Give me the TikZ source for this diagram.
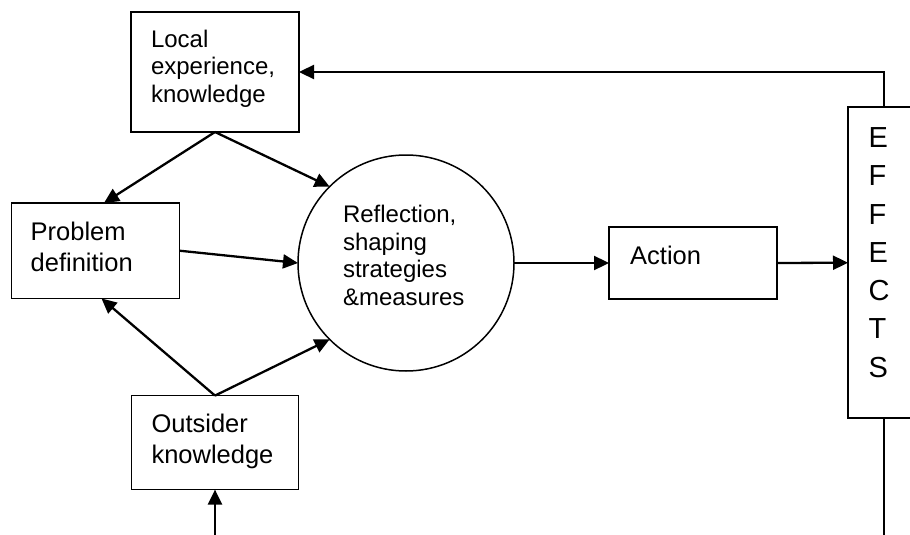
\documentclass[tikz,border=0pt]{standalone}
\usepackage{fontspec}
\setmainfont{Liberation Sans}
\usetikzlibrary{arrows.meta}
\begin{document}
\begin{tikzpicture}[x=1pt,y=-1pt,
  box/.style={draw, line width=1.6pt, rectangle, inner sep=0pt, outer sep=0pt},
  txt/.style={inner sep=0pt, outer sep=0pt, align=left, anchor=north west},
  conn/.style={line width=2.3pt, -{Triangle[length=15pt,width=14pt]}},
  plainline/.style={line width=2.3pt}]
\fill[white] (0,0) rectangle (910,535);
\useasboundingbox (0,0) rectangle (910,535);
% boxes
\node[box, minimum width=168pt, minimum height=120pt] (local) at (215,72) {};
\node[box, minimum width=168pt, minimum height=95.5pt] (prob) at (95.5,250.7) {};
\node[box, minimum width=167pt, minimum height=94pt] (outs) at (215,442.6) {};
\node[box, minimum width=168pt, minimum height=72pt] (act) at (693,263) {};
\node[draw, circle, line width=1.5pt, minimum size=216pt, inner sep=0pt, outer sep=0pt] (circ) at (406,263) {};
\node[box, minimum width=72pt, minimum height=311pt] (eff) at (884,262.7) {};
% texts
\node[txt, font=\fontsize{24}{27.3}\selectfont] (localtxt) at (151,30.1) {Local\\experience,\\knowledge};
\node[txt, font=\fontsize{25.5}{31.5}\selectfont] (probtxt) at (30.7,221.7) {Problem\\definition};
\node[txt, font=\fontsize{25.5}{30.7}\selectfont] (outstxt) at (151.5,414.5) {Outsider\\knowledge};
\node[txt, font=\fontsize{24}{27.5}\selectfont] (circtxt) at (343,205.5) {Reflection,\\shaping\\strategies\\\&measures};
\node[inner sep=0pt, anchor=base west, font=\fontsize{25.5}{30}\selectfont] (acttxt) at (630,264.3) {Action};
\node[txt, font=\fontsize{29}{38.3}\selectfont] (efftxt) at (868.7,127.5) {E\\F\\F\\E\\C\\T\\S};
% connectors
\draw[conn] (local.south) -- ([xshift=8.5pt]prob.north);
\draw[conn] (local.south) -- (circ.135);
\draw[conn] (prob.east) -- (circ.west);
\draw[conn] (outs.north) -- ([xshift=6pt]prob.south);
\draw[conn] (outs.north) -- (circ.225);
\draw[conn] (circ.east) -- (act.west);
\draw[conn] (act.east) -- (eff.west);
\draw[conn] (eff.north) |- (local.east);
\coordinate (effend) at (884,535);
\draw[plainline] (eff.south) -- (effend);
\coordinate (outsin) at (215,535);
\draw[conn] (outsin) -- (outs.south);
\end{tikzpicture}
\end{document}
